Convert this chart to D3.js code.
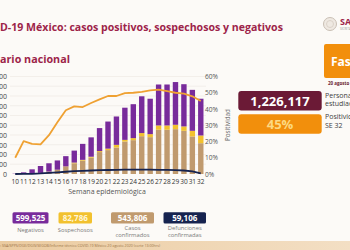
<!DOCTYPE html>
<html>
<head>
<meta charset="utf-8">
<script src="https://cdn.jsdelivr.net/npm/d3@7"></script>
<style>
  html, body { margin: 0; padding: 0; background: #fcfaf7; overflow: hidden; }
  svg { display: block; font-family: "Open Sans", sans-serif; }
</style>
</head>
<body>
<div id="chart"></div>
<script>
// semanas epidemiologicas
const semanas = [10, 11, 12, 13, 14, 15, 16, 17, 18, 19, 20, 21, 22, 23, 24, 25, 26, 27, 28, 29, 30, 31, 32];
const confirmados = [0, 100, 400, 1000, 2300, 4100, 7200, 11000, 13700, 16800, 22500, 24500, 27100, 33300, 34700, 38800, 37800, 45400, 45400, 46000, 44300, 38500, 31600];
const sospechosos = [0, 0, 50, 100, 200, 300, 500, 700, 800, 900, 1000, 1500, 2800, 1700, 2100, 3200, 3100, 4400, 4400, 4500, 4500, 5800, 7900];
const negativos = [300, 1600, 4350, 7100, 8500, 9500, 10600, 12300, 16400, 19900, 23600, 27800, 29100, 33000, 34800, 37700, 36300, 42000, 42000, 43800, 43300, 42000, 37700];
const defunciones = [0, 50, 200, 550, 1100, 1700, 2300, 2900, 3300, 3600, 3900, 4100, 4300, 4400, 4400, 4500, 4400, 4300, 4200, 4000, 3600, 2600, 700];
const positividad = [10, 20.2, 18.6, 18.2, 23.9, 31.8, 39.2, 41.6, 41.2, 43.7, 45.9, 48, 48, 49.8, 50, 50.6, 51.4, 51.9, 51, 50, 49.4, 47.8, 44.9];

const ticksIzq = [0, 10000, 20000, 30000, 40000, 50000, 60000, 70000, 80000, 90000, 100000];
const ticksDer = [0, 10, 20, 30, 40, 50, 60];

// cajas de resumen
const resumenValores = ["599,525", "82,786", "543,806", "59,106"];
const resumenEtiquetas = [["Negativos"], ["Sospechosos"], ["Casos", "confirmados"], ["Defunciones", "confirmadas"]];

const colores = {
    negativos: "#782b9b",
    sospechosos: "#f2c12e",
    confirmados: "#c09a6e",
    defunciones: "#16234f",
    positividad: "#efa132",
    vino: "#9d2449",
};

const paintChart = () => {
    const width = 350, height = 250;
    const svg = d3.select("#chart").append("svg")
        .attr("width", width)
        .attr("height", height);

    svg.append("rect").attr("width", width).attr("height", height).attr("fill", "#fcfaf7");

    // texto recortado por el borde izquierdo, como en la captura
    const textoCortado = (texto, corte, fin, y, size, color) => {
        const t = svg.append("text").attr("y", y).attr("font-size", size)
            .attr("font-weight", 700).attr("fill", color).text(texto);
        const pre = t.node().getSubStringLength(0, corte);
        const resto = t.node().getComputedTextLength() - pre;
        const k = fin / resto;
        t.attr("font-size", size * k).attr("x", -pre * k);
        return t;
    };
    textoCortado("COVID-19 México: casos positivos, sospechosos y negativos", 4, 283, 30.5, 10, colores.vino);
    textoCortado("Escenario nacional", 5, 70, 63, 12, colores.vino);

    const datos = semanas.map((s, i) => ({
        semana: s,
        confirmados: confirmados[i],
        sospechosos: sospechosos[i],
        negativos: negativos[i],
    }));

    const x = d3.scaleBand().domain(semanas).range([11, 205]).paddingInner(0.36).paddingOuter(0.18);
    const y = d3.scaleLinear().domain([0, 100000]).range([174, 76.5]);
    const yP = d3.scaleLinear().domain([0, 60]).range([174, 76.5]);

    // rejilla
    svg.append("g").selectAll("line").data(ticksIzq.slice(1)).join("line")
        .attr("x1", 10).attr("x2", 206)
        .attr("y1", d => y(d)).attr("y2", d => y(d))
        .attr("stroke", "#ece7e1").attr("stroke-width", 0.6);

    // eje izquierdo
    const ejeIzq = svg.append("g").attr("transform", "translate(8,0)")
        .call(d3.axisLeft(y).tickValues(ticksIzq).tickFormat(d3.format(",")).tickSize(0).tickPadding(1));
    ejeIzq.select(".domain").remove();
    ejeIzq.selectAll("text").attr("font-size", 7).attr("fill", "#444").attr("font-family", "Open Sans");

    // eje derecho
    const ejeDer = svg.append("g").attr("transform", "translate(204,0)")
        .call(d3.axisRight(yP).tickValues(ticksDer).tickFormat(d => d + "%").tickSize(0).tickPadding(1));
    ejeDer.select(".domain").remove();
    ejeDer.selectAll("text").attr("font-size", 6.6).attr("fill", "#555").attr("font-family", "Open Sans");

    svg.append("text")
        .attr("transform", "translate(229.5,125) rotate(-90)")
        .attr("text-anchor", "middle").attr("font-size", 6.3).attr("fill", "#666")
        .text("Positividad");

    // barras apiladas
    const series = d3.stack().keys(["confirmados", "sospechosos", "negativos"])(datos);
    svg.append("g").selectAll("g").data(series).join("g")
        .attr("fill", d => colores[d.key])
        .selectAll("rect").data(d => d).join("rect")
        .attr("x", d => x(d.data.semana))
        .attr("width", x.bandwidth())
        .attr("y", d => y(d[1]))
        .attr("height", d => y(d[0]) - y(d[1]));

    const cx = s => x(s) + x.bandwidth() / 2;

    // defunciones
    svg.append("path")
        .datum(defunciones)
        .attr("fill", "none").attr("stroke", colores.defunciones).attr("stroke-width", 1.8)
        .attr("d", d3.line().x((d, i) => cx(semanas[i])).y(d => y(d)));

    // positividad
    svg.append("path")
        .datum(positividad)
        .attr("fill", "none").attr("stroke", colores.positividad).attr("stroke-width", 1.8)
        .attr("stroke-linejoin", "round")
        .attr("d", d3.line().x((d, i) => cx(semanas[i])).y(d => yP(d)));

    // eje x
    const ejeX = svg.append("g").attr("transform", "translate(0,177)")
        .call(d3.axisBottom(x).tickSize(0).tickPadding(2));
    ejeX.select(".domain").remove();
    ejeX.selectAll("text").attr("font-size", 6.5).attr("fill", "#333").attr("font-family", "Open Sans");

    svg.append("text").attr("x", 107).attr("y", 194).attr("text-anchor", "middle")
        .attr("font-size", 7).attr("fill", "#555").text("Semana epidemiológica");

    // cajas inferiores
    const cajas = [
        { x0: 12.5, x1: 48.5, fill: colores.negativos, txt: "#fff" },
        { x0: 58.5, x1: 92, fill: colores.sospechosos, txt: "#fff6d8" },
        { x0: 111, x1: 154, fill: colores.confirmados, txt: "#fff" },
        { x0: 163.5, x1: 206, fill: colores.defunciones, txt: "#fff" },
    ];
    const gCajas = svg.append("g").selectAll("g").data(cajas).join("g");
    gCajas.append("rect")
        .attr("x", d => d.x0).attr("y", 212.3)
        .attr("width", d => d.x1 - d.x0).attr("height", 11.3)
        .attr("rx", 1.5).attr("fill", d => d.fill);
    gCajas.append("text")
        .attr("x", d => (d.x0 + d.x1) / 2).attr("y", 220.8)
        .attr("text-anchor", "middle").attr("font-size", 8).attr("font-weight", 700)
        .attr("fill", d => d.txt)
        .text((d, i) => resumenValores[i]);
    gCajas.each(function (d, i) {
        const lineas = resumenEtiquetas[i];
        const y0 = lineas.length === 1 ? 231.5 : 229.5;
        d3.select(this).selectAll("text.et").data(lineas).join("text")
            .attr("class", "et")
            .attr("x", (d.x0 + d.x1) / 2).attr("y", (l, j) => y0 + j * 7.5)
            .attr("text-anchor", "middle").attr("font-size", 5.8).attr("fill", "#7a7a7a")
            .text(l => l);
    });

    // franja inferior
    const grad = svg.append("defs").append("linearGradient").attr("id", "franja");
    grad.append("stop").attr("offset", "0%").attr("stop-color", "#ebcba0");
    grad.append("stop").attr("offset", "100%").attr("stop-color", "#f3dfc4");
    svg.append("rect").attr("x", 0).attr("y", 241).attr("width", width).attr("height", 9).attr("fill", "url(#franja)");
    svg.append("text").attr("x", 160).attr("y", 246.5).attr("text-anchor", "end")
        .attr("font-size", 3.6).attr("fill", "#9c7448")
        .text("Fuente: SSA/SPPS/DGE/DGIS/SEGOB/Informe técnico COVID-19 México 20 agosto 2020 (corte 13:00hrs)");

    // panel derecho
    svg.append("circle").attr("cx", 330).attr("cy", 24).attr("r", 6.5)
        .attr("fill", "#efe9e2").attr("stroke", "#c9bfb4").attr("stroke-width", 1);
    svg.append("circle").attr("cx", 330).attr("cy", 24).attr("r", 3.5)
        .attr("fill", "none").attr("stroke", "#d6ccc1").attr("stroke-width", 0.8);
    svg.append("text").attr("x", 340).attr("y", 25).attr("font-size", 9).attr("font-weight", 700)
        .attr("fill", colores.vino).text("SALUD");
    svg.append("text").attr("x", 340).attr("y", 30).attr("font-size", 2.6)
        .attr("fill", "#999").text("SECRETARÍA DE SALUD");

    svg.append("rect").attr("x", 324).attr("y", 44).attr("width", 40).attr("height", 34)
        .attr("rx", 2).attr("fill", "#f28f0c");
    svg.append("text").attr("x", 331).attr("y", 66).attr("font-size", 12).attr("font-weight", 700)
        .attr("fill", "#fff").text("Fase 3");
    svg.append("text").attr("x", 328).attr("y", 84.5).attr("font-size", 4.5).attr("font-weight", 700)
        .attr("fill", "#6b1b2f").text("20 agosto 2020");

    svg.append("rect").attr("x", 238.3).attr("y", 91).attr("width", 83.4).attr("height", 19.5)
        .attr("rx", 3).attr("fill", "#6b1a36");
    svg.append("text").attr("x", 280).attr("y", 105.7).attr("text-anchor", "middle")
        .attr("font-size", 13).attr("font-weight", 700).attr("fill", "#fff").text("1,226,117");
    svg.append("rect").attr("x", 238.3).attr("y", 114.3).attr("width", 83.4).attr("height", 19.5)
        .attr("rx", 3).attr("fill", "#f28f0c");
    svg.append("text").attr("x", 280).attr("y", 129).attr("text-anchor", "middle")
        .attr("font-size", 13).attr("font-weight", 700).attr("fill", "#fcd982").text("45%");

    const notas = [["Personas", 97.5], ["estudiadas", 106], ["Positividad", 119], ["SE 32", 128]];
    svg.append("g").selectAll("text").data(notas).join("text")
        .attr("x", 325).attr("y", d => d[1])
        .attr("font-size", 7).attr("fill", "#3d3d3d")
        .text(d => d[0]);
};

document.addEventListener("DOMContentLoaded", paintChart);
</script>
</body>
</html>
